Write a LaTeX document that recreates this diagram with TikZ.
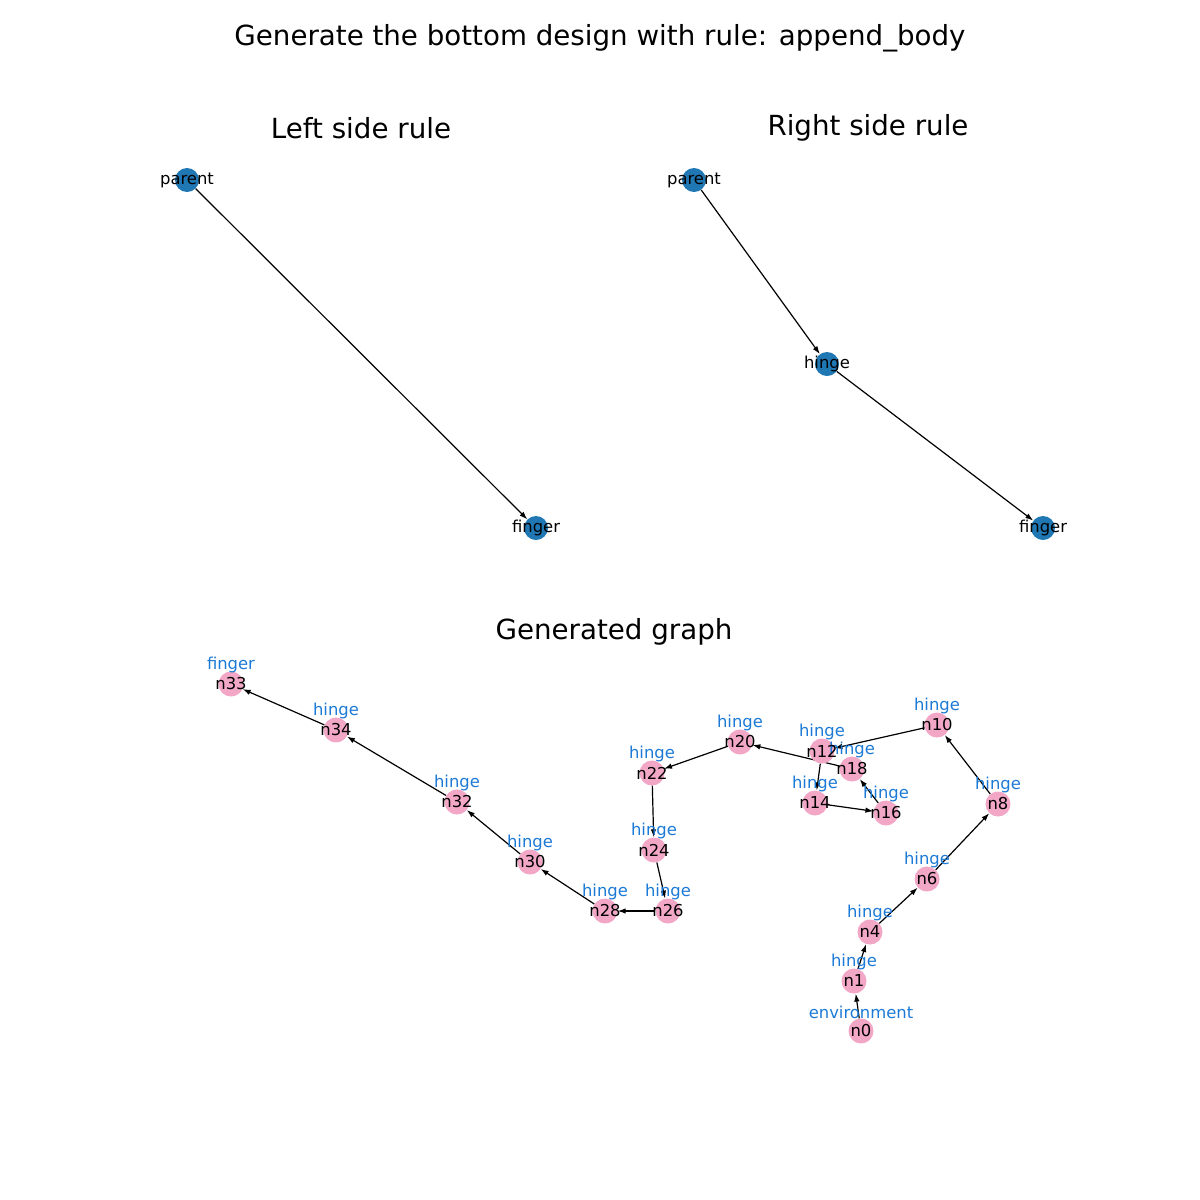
\documentclass[tikz,border=0pt]{standalone}
\usepackage{fontspec}
\setmainfont{DejaVu Sans}
\usetikzlibrary{arrows.meta}
\definecolor{ruleblue}{HTML}{1F77B4}
\definecolor{pinknode}{RGB}{242,167,198}
\definecolor{typeblue}{RGB}{28,122,214}
\pgfdeclarelayer{edges}
\pgfsetlayers{edges,main}

\begin{document}
\begin{tikzpicture}[x=1pt,y=-1pt,
  rnode/.style={circle,fill=ruleblue,inner sep=0pt,minimum size=24pt},
  gnode/.style={circle,fill=pinknode,inner sep=0pt,minimum size=25pt},
  txt/.style={inner sep=0pt,font=\fontsize{16.4}{19}\selectfont},
  lab/.style={txt,text=typeblue},
  ttl/.style={inner sep=0pt,font=\fontsize{27.7}{33}\selectfont},
  edge/.style={line width=1.2pt,-{Latex[length=8pt,width=5.5pt]}}]

\useasboundingbox (0,0) rectangle (1200,1200);

\node [ttl] (title) at (600,38) {Generate the bottom design with rule: append\_body};
\node [ttl] (ltitle) at (361,128) {Left side rule};
\node [ttl] (rtitle) at (868,128) {Right side rule};
\node [ttl] (gtitle) at (614,632) {Generated graph};

% left side rule
\node [rnode] (lparent) at (187,180) {};
\node [rnode] (lfinger) at (536,528) {};
\node [txt] at (lparent) {parent};
\node [txt] at (lfinger) {finger};

% right side rule
\node [rnode] (rparent) at (694,180) {};
\node [rnode] (rhinge) at (827,364) {};
\node [rnode] (rfinger) at (1043,528) {};
\node [txt] at (rparent) {parent};
\node [txt] at (rhinge) {hinge};
\node [txt] at (rfinger) {finger};

% generated graph
\node [gnode] (n0) at (861,1031) {};
\node [gnode] (n1) at (854,981) {};
\node [gnode] (n4) at (870,932) {};
\node [gnode] (n6) at (927,879) {};
\node [gnode] (n8) at (998,804) {};
\node [gnode] (n10) at (937,725) {};
\node [gnode] (n12) at (822,751) {};
\node [gnode] (n14) at (815,803) {};
\node [gnode] (n16) at (886,813) {};
\node [gnode] (n18) at (852,769) {};
\node [gnode] (n20) at (740,742) {};
\node [gnode] (n22) at (652,773) {};
\node [gnode] (n24) at (654,850) {};
\node [gnode] (n26) at (668,911) {};
\node [gnode] (n28) at (605,911) {};
\node [gnode] (n30) at (530,862) {};
\node [gnode] (n32) at (457,802) {};
\node [gnode] (n34) at (336,730) {};
\node [gnode] (n33) at (231,684) {};

\node [lab] at ([yshift=19pt]n0.center) {environment};
\node [lab] at ([yshift=19pt]n1.center) {hinge};
\node [lab] at ([yshift=19pt]n4.center) {hinge};
\node [lab] at ([yshift=19pt]n6.center) {hinge};
\node [lab] at ([yshift=19pt]n8.center) {hinge};
\node [lab] at ([yshift=19pt]n10.center) {hinge};
\node [lab] at ([yshift=19pt]n12.center) {hinge};
\node [lab] at ([yshift=19pt]n14.center) {hinge};
\node [lab] at ([yshift=19pt]n16.center) {hinge};
\node [lab] at ([yshift=19pt]n18.center) {hinge};
\node [lab] at ([yshift=19pt]n20.center) {hinge};
\node [lab] at ([yshift=19pt]n22.center) {hinge};
\node [lab] at ([yshift=19pt]n24.center) {hinge};
\node [lab] at ([yshift=19pt]n26.center) {hinge};
\node [lab] at ([yshift=19pt]n28.center) {hinge};
\node [lab] at ([yshift=19pt]n30.center) {hinge};
\node [lab] at ([yshift=19pt]n32.center) {hinge};
\node [lab] at ([yshift=19pt]n34.center) {hinge};
\node [lab] at ([yshift=19pt]n33.center) {finger};

\node [txt] at (n0) {n0};
\node [txt] at (n1) {n1};
\node [txt] at (n4) {n4};
\node [txt] at (n6) {n6};
\node [txt] at (n8) {n8};
\node [txt] at (n10) {n10};
\node [txt] at (n12) {n12};
\node [txt] at (n14) {n14};
\node [txt] at (n16) {n16};
\node [txt] at (n18) {n18};
\node [txt] at (n20) {n20};
\node [txt] at (n22) {n22};
\node [txt] at (n24) {n24};
\node [txt] at (n26) {n26};
\node [txt] at (n28) {n28};
\node [txt] at (n30) {n30};
\node [txt] at (n32) {n32};
\node [txt] at (n34) {n34};
\node [txt] at (n33) {n33};

\begin{pgfonlayer}{edges}
\draw [edge] (lparent)--(lfinger);
\draw [edge] (rparent)--(rhinge);
\draw [edge] (rhinge)--(rfinger);

\draw [edge] (n0)--(n1);
\draw [edge] (n1)--(n4);
\draw [edge] (n4)--(n6);
\draw [edge] (n6)--(n8);
\draw [edge] (n8)--(n10);
\draw [edge] (n10)--(n12);
\draw [edge] (n12)--(n14);
\draw [edge] (n14)--(n16);
\draw [edge] (n16)--(n18);
\draw [edge] (n18)--(n20);
\draw [edge] (n20)--(n22);
\draw [edge] (n22)--(n24);
\draw [edge] (n24)--(n26);
\draw [edge] (n26)--(n28);
\draw [edge] (n28)--(n30);
\draw [edge] (n30)--(n32);
\draw [edge] (n32)--(n34);
\draw [edge] (n34)--(n33);
\end{pgfonlayer}
\end{tikzpicture}
\end{document}
